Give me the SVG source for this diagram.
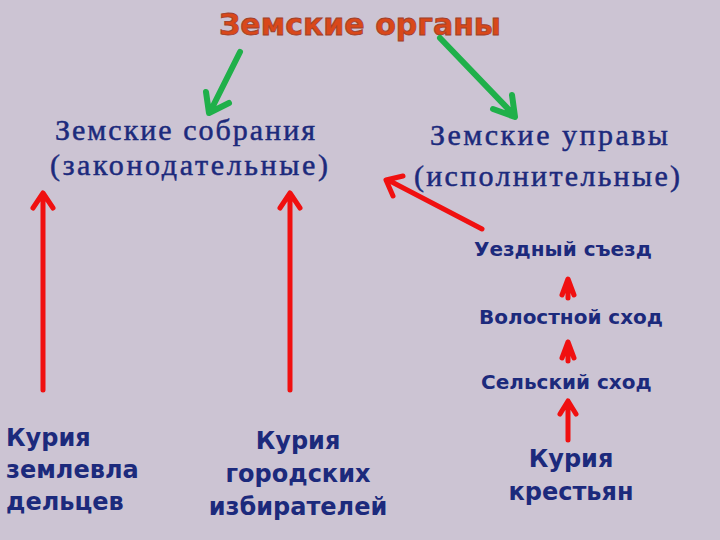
<svg xmlns="http://www.w3.org/2000/svg" width="720" height="540" viewBox="0 0 720 540">
<style>
.s{font-family:"Liberation Serif",serif;font-size:30px;fill:#1c2a7c;stroke:#1c2a7c;stroke-width:0.5}
.b{font-family:"DejaVu Sans",Verdana,sans-serif;font-size:20px;font-weight:bold;fill:#1c2a7c}
.k{font-family:"DejaVu Sans",Verdana,sans-serif;font-size:24px;font-weight:bold;fill:#1c2a7c}
.g{stroke:#1fb04a;stroke-width:6;fill:none;stroke-linecap:round;stroke-linejoin:round}
.r{stroke:#f01010;stroke-width:5;fill:none;stroke-linecap:round;stroke-linejoin:round}
</style>
<rect width="720" height="540" fill="#ccc4d3"/>
<g id="title"><text x="360" y="35" text-anchor="middle" font-family="DejaVu Sans,Verdana,sans-serif" font-size="30" font-weight="bold" fill="#d9481a" stroke="#a0402a" stroke-width="0.8">Земские органы</text></g>
<g id="sobrania"><text class="s" x="55" y="140" textLength="260">Земские собрания</text><text class="s" x="50" y="175" textLength="278">(законодательные)</text></g>
<g id="upravy"><text class="s" x="430" y="145" textLength="238">Земские управы</text><text class="s" x="414" y="186" textLength="266">(исполнительные)</text></g>
<g id="uezd"><text class="b" x="474" y="256">Уездный съезд</text></g>
<g id="volost"><text class="b" x="479" y="324">Волостной сход</text></g>
<g id="selsk"><text class="b" x="481" y="389">Сельский сход</text></g>
<g id="k1"><text class="k" x="6" y="446">Курия</text><text class="k" x="6" y="478">землевла</text><text class="k" x="6" y="510">дельцев</text></g>
<g id="k2" text-anchor="middle"><text class="k" x="298" y="449">Курия</text><text class="k" x="298" y="482">городских</text><text class="k" x="298" y="515">избирателей</text></g>
<g id="k3" text-anchor="middle"><text class="k" x="571" y="467">Курия</text><text class="k" x="571" y="500">крестьян</text></g>
<g id="connectors">
<path class="g" d="M240 52L210 112M206 92L209 113L229 103"/>
<path class="g" d="M440 38L514 115M493 109L515 117L512 95"/>
<path class="r" d="M43 390V194M33 208L43 193L53 208"/>
<path class="r" d="M290 390V194M280 208L290 193L300 208"/>
<path class="r" d="M482 229L388 180M393 196L386 180L403 176"/>
<path class="r" d="M568 298V280M562 295L568 279L574 295"/>
<path class="r" d="M568 361V342M562 358L568 342L574 358"/>
<path class="r" d="M568 440V402M560 414L568 401L576 414"/>
</g>
</svg>
